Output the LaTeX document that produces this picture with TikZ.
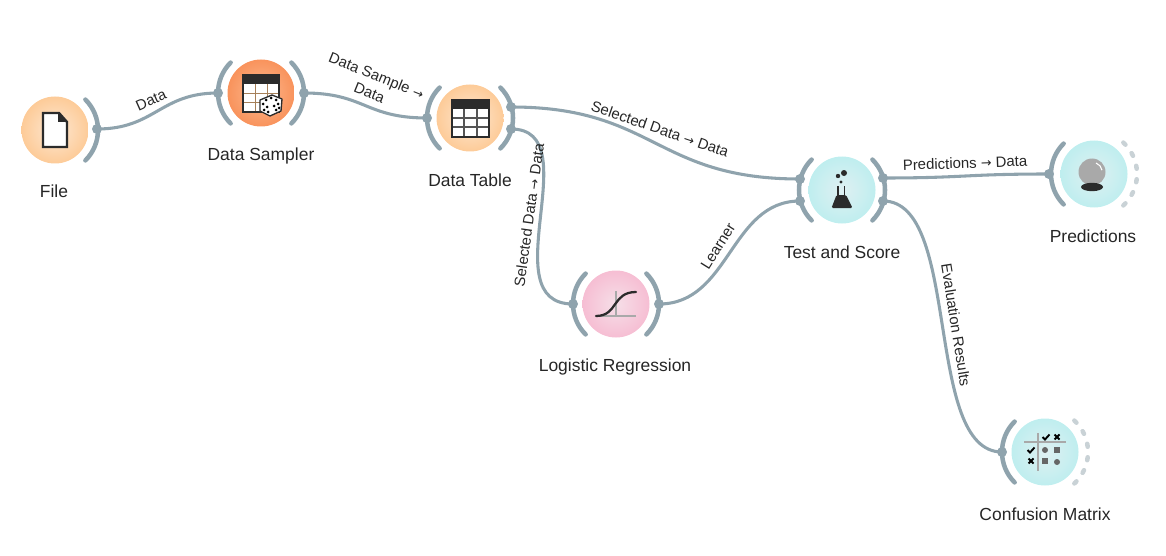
\documentclass[tikz,border=0pt]{standalone}
\usepackage{fontspec}
\setmainfont{Liberation Sans}
\newfontfamily\arrowfont{DejaVu Sans}
\newcommand{\arr}{{\arrowfont\scalebox{0.85}{→}}}
\definecolor{chancol}{HTML}{8FA3AD}
\definecolor{dashcol}{HTML}{C9D2D6}
\definecolor{icondark}{HTML}{2B2B2B}
\definecolor{icongray}{HTML}{A9A9A9}
\definecolor{orangein}{HTML}{FDE8D3}
\definecolor{orangeout}{HTML}{FDCB98}
\definecolor{samplerin}{HTML}{FBB990}
\definecolor{samplerout}{HTML}{F9935C}
\definecolor{tealin}{HTML}{DFF0F2}
\definecolor{tealout}{HTML}{BFEEEF}
\definecolor{pinkin}{HTML}{F6DFE8}
\definecolor{pinkout}{HTML}{F6BED3}
\tikzset{
  widget/.style={circle, minimum size=50.25pt, inner sep=0pt, shading=radial},
  orangeball/.style={widget, inner color=orangein, outer color=orangeout},
  tealball/.style={widget, inner color=tealin, outer color=tealout},
  pinkball/.style={widget, inner color=pinkin, outer color=pinkout},
  port/.style={circle, fill=chancol, minimum size=7.5pt, inner sep=0pt},
  chan/.style={draw=chancol, line width=3.4pt, line cap=round},
  link/.style={draw=chancol, line width=2.3pt},
  title/.style={font=\fontsize{13.1}{15}\selectfont, text=black!85},
  edgetext/.style={font=\fontsize{11.2}{14}\selectfont, text=black!85, inner sep=0pt},
}
\begin{document}
\begin{tikzpicture}[x=0.75pt,y=-0.75pt]
\useasboundingbox (0,0) rectangle (1166,556);
\def\rightarc#1{\draw[chan] (#1.center) ++(-45:32.25pt) arc[start angle=-45,end angle=45,radius=32.25pt];}
\def\leftarc#1{\draw[chan] (#1.center) ++(135:32.25pt) arc[start angle=135,end angle=225,radius=32.25pt];}
\def\dashedarc#1{\foreach \a in {-45,-27,-9,9,27,45}{\draw[draw=dashcol, line width=3.4pt, line cap=round] (#1.center) ++(\a-2:32.25pt) arc[start angle=\a-2,end angle=\a+2,radius=32.25pt];}}

% Draw the widgets
\node[orangeball] (file) at (55,130) {};
\node[widget, inner color=samplerin, outer color=samplerout] (sampler) at (261,93) {};
\node[orangeball] (table) at (470,118) {};
\node[pinkball] (logreg) at (616,304) {};
\node[tealball] (testscore) at (842,190) {};
\node[tealball] (predict) at (1094,174) {};
\node[tealball] (confusion) at (1045,452) {};

% Channel arcs around the widgets
\rightarc{file}
\leftarc{sampler} \rightarc{sampler}
\leftarc{table} \rightarc{table}
\leftarc{logreg} \rightarc{logreg}
\leftarc{testscore} \rightarc{testscore}
\leftarc{predict} \dashedarc{predict}
\leftarc{confusion} \dashedarc{confusion}

% Ports
\node[port] (fileout) at (97,129) {};
\node[port] (samplerin) at (218,93) {};
\node[port] (samplerout) at (304,93) {};
\node[port] (tablein) at (427,118) {};
\node[port] (tableoutA) at (511,107) {};
\node[port] (tableoutB) at (511,129) {};
\node[port] (logregin) at (573,304) {};
\node[port] (logregout) at (659,304) {};
\node[port] (testinA) at (800,179) {};
\node[port] (testinB) at (800,201) {};
\node[port] (testoutA) at (883,178) {};
\node[port] (testoutB) at (883,201) {};
\node[port] (predictin) at (1049,174) {};
\node[port] (confusionin) at (1002,452) {};

% Connect the ports
\draw[link] (fileout.center) .. controls (155,129) and (160,93) .. (samplerin.center);
\draw[link] (samplerout.center) .. controls (365,93) and (365,118) .. (tablein.center);
\draw[link] (tableoutA.center) .. controls (655,107) and (655,179) .. (testinA.center);
\draw[link] (tableoutB.center) .. controls (590,129) and (490,304) .. (logregin.center);
\draw[link] (logregout.center) .. controls (730,304) and (730,201) .. (testinB.center);
\draw[link] (testoutA.center) .. controls (965,178) and (965,174) .. (predictin.center);
\draw[link] (testoutB.center) .. controls (962,201) and (923,452) .. (confusionin.center);

% Connection labels
\node[edgetext, rotate=24] (lblfile) at (151,100) {Data};
\node[edgetext, rotate=-22, align=center] (lblsampler) at (373,84) {Data Sample \arr\\Data};
\node[edgetext, rotate=-19] (lbltable) at (660,129) {Selected Data \arr{} Data};
\node[edgetext, rotate=82] (lbllogreg) at (529,215) {Selected Data \arr{} Data};
\node[edgetext, rotate=58] (lbllearner) at (718,246) {Learner};
\node[edgetext, rotate=2] (lblpredict) at (965,163) {Predictions \arr{} Data};
\node[edgetext, rotate=-81] (lblresults) at (956,325) {Evaluation Results};

% Widget titles
\node[title] (filetitle) at (54,191.5) {File};
\node[title] (samplertitle) at (261,156) {Data Sampler};
\node[title] (tabletitle) at (470,180.5) {Data Table};
\node[title] (logregtitle) at (615,367) {Logistic Regression};
\node[title] (testtitle) at (842,252.5) {Test and Score};
\node[title] (predicttitle) at (1093,236.5) {Predictions};
\node[title] (confusiontitle) at (1045,514.5) {Confusion Matrix};

% File icon
\draw[fill=white, draw=icondark, line width=1.8pt, line join=miter] (43,113) -- (59,113) -- (67,122) -- (67,147) -- (43,147) -- cycle;
\fill[icondark] (58,112) -- (68,122) -- (58,122) -- cycle;

% Data sampler icon
\fill[white] (243,75) rectangle (279,112);
\fill[icondark] (243,75) rectangle (279,84);
\foreach \x in {255,267} \draw[brown!60!gray, line width=0.7pt] (\x,84) -- (\x,112);
\foreach \y in {93,102} \draw[brown!60!gray, line width=0.7pt] (243,\y) -- (279,\y);
\draw[icondark, line width=1.2pt] (243,75) rectangle (279,112);
\draw[fill=white, draw=icondark, line width=1pt, line join=round] (260,100) -- (272,95) -- (282,99) -- (281,111) -- (270,116) -- (260,111) -- cycle;
\foreach \px/\py in {271/98,266/100,276/100,263/104,267/107,264/110,268/112,274/106,278/104,276/110,279/108}
  \fill[black] (\px,\py) circle[radius=1.5];

% Data table icon
\fill[white] (452,100) rectangle (489,137);
\fill[icondark] (452,100) rectangle (489,109);
\foreach \x in {464,477} \draw[icondark!80, line width=0.8pt] (\x,109) -- (\x,137);
\foreach \y in {118,127} \draw[icondark!80, line width=0.8pt] (452,\y) -- (489,\y);
\draw[icondark, line width=1.2pt] (452,100) rectangle (489,137);

% Logistic regression icon
\draw[icongray, line width=1.4pt] (616,291) -- (616,317) (596,316) -- (636,316);
\draw[icondark, line width=1.7pt, line cap=round] (596,316) .. controls (618,316) and (612,292) .. (636,292);

% Flask icon
\fill[icondark] (844,173) circle[radius=3];
\fill[icondark] (838,176) circle[radius=2.2];
\fill[icondark] (841,182) circle[radius=1.6];
\draw[icondark, line width=0.9pt] (838,186) -- (838,197) (844.5,186) -- (844.5,197);
\fill[icondark, rounded corners=1pt] (836.5,195) -- (846,195) -- (852.5,208) -- (831.5,208) -- cycle;

% Crystal ball icon
\fill[icongray] (1092,172) circle[radius=13.5];
\draw[white, line width=0.8pt] (1096,163) arc[start angle=70,end angle=10,radius=7pt];
\fill[icondark] (1092,187) ellipse[x radius=11,y radius=4.2];

% Confusion matrix icon
\draw[icongray, line width=1.4pt] (1024,442) -- (1066,442) (1038,433) -- (1038,471);
\foreach \cx/\cy in {1046/437,1031/450}
  \draw[black, line width=1.4pt] (\cx-3.5,\cy) -- (\cx-1,\cy+2.5) -- (\cx+3.5,\cy-2.5);
\foreach \cx/\cy in {1057/437,1031/461}
  \draw[black, line width=1.4pt] (\cx-2.5,\cy-2.5) -- (\cx+2.5,\cy+2.5) (\cx-2.5,\cy+2.5) -- (\cx+2.5,\cy-2.5);
\fill[black!60] (1045,450) circle[radius=3];
\fill[black!60] (1057,462) circle[radius=3];
\fill[black!60] (1054,447) rectangle (1060,453);
\fill[black!60] (1042,458) rectangle (1048,464);
\end{tikzpicture}
\end{document}
